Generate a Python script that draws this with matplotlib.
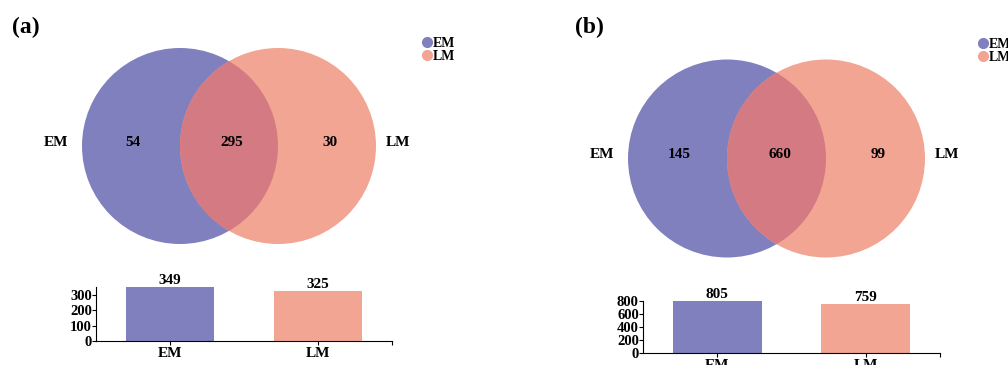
import numpy as np
import matplotlib
matplotlib.use('Agg')
import matplotlib.pyplot as plt
from matplotlib.patches import Circle
from matplotlib.lines import Line2D

plt.rcParams['font.family'] = ['Liberation Serif', 'DejaVu Serif']
plt.rcParams['font.weight'] = 'bold'

# data
groups = ['EM', 'LM']
venn_a = [54, 295, 30]      # EM only, shared, LM only
venn_b = [145, 660, 99]
totals_a = [349, 325]
totals_b = [805, 759]
yticks_a = [0, 100, 200, 300]
yticks_b = [0, 200, 400, 600, 800]

c_em = '#8080be'
c_lm = '#f2a592'
c_mid = '#d47a82'

W, H = 1008, 365
fig = plt.figure(figsize=(W / 100, H / 100), dpi=100)


def px_axes(left, top, w, h):
    # axes from pixel box (top-left origin)
    return fig.add_axes([left / W, (H - top - h) / H, w / W, h / H])


def venn(cx, cy, unit, counts):
    ax = px_axes(cx - 2.5 * unit, cy - 1.2 * unit, 5 * unit, 2.4 * unit)
    ax.set_xlim(-2.5, 2.5)
    ax.set_ylim(-1.2, 1.2)
    ax.axis('off')
    left = Circle((-0.5, 0), 1.0, color=c_em, lw=0)
    right = Circle((0.5, 0), 1.0, color=c_lm, lw=0)
    ax.add_patch(left)
    ax.add_patch(right)
    mid = Circle((0.5, 0), 1.0, color=c_mid, lw=0)
    ax.add_patch(mid)
    mid.set_clip_path(left)
    ax.text(-1.76, 0.04, groups[0], ha='center', va='center', fontsize=11)
    ax.text(1.72, 0.04, groups[1], ha='center', va='center', fontsize=11)
    for x, v in zip([-0.98, 0.03, 1.03], counts):
        ax.text(x, 0.04, str(v), ha='center', va='center', fontsize=11)
    return ax


def bars(left, bottom, width, vals, yticks, unit_px):
    h = max(vals) * unit_px
    ax = px_axes(left, bottom - h, width, h)
    x = np.arange(len(groups))
    ax.bar(x, vals, width=0.6, color=[c_em, c_lm])
    ax.set_xlim(-0.5, 1.5)
    ax.set_ylim(0, max(vals))
    ax.set_yticks(yticks)
    ax.set_xticks([0, 1, 1.5])
    ax.set_xticklabels(groups + [''])
    ax.spines['top'].set_visible(False)
    ax.spines['right'].set_visible(False)
    ax.tick_params(length=3, width=0.8, pad=0, labelsize=10.5)
    ax.tick_params(axis='x', pad=1, labelsize=11)
    for xi, v in zip(x, vals):
        ax.text(xi, v, str(v), ha='center', va='bottom', fontsize=11)
    return ax


def legend(x, y):
    handles = [Line2D([], [], marker='o', ls='', color=c, markersize=7)
               for c in (c_em, c_lm)]
    fig.legend(handles, groups, loc='upper left',
               bbox_to_anchor=(x / W, (H - y) / H), frameon=False,
               fontsize=10, handletextpad=-0.1, labelspacing=0.0,
               borderpad=0, handlelength=1.1)


venn(229, 146, 98, venn_a)
venn(776.5, 158.5, 99, venn_b)

bars(96, 341, 296, totals_a, yticks_a, 46 / 300)
bars(643, 353, 297, totals_b, yticks_b, 52 / 800)

legend(412, 30)
legend(968, 31)

fig.text(12 / W, 1 - 27 / H, '(a)', fontsize=17, va='center')
fig.text(575 / W, 1 - 27 / H, '(b)', fontsize=17, va='center')

fig.savefig('out.png', dpi=100, facecolor='white')
